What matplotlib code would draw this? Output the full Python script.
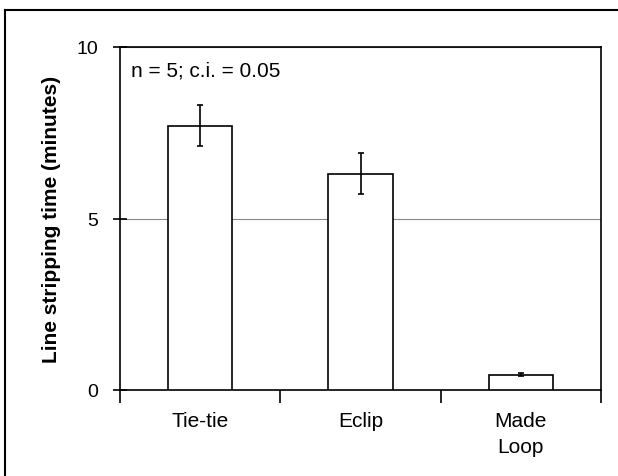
import numpy as np
import matplotlib.pyplot as plt
from matplotlib.lines import Line2D

# data
categories = ["Tie-tie", "Eclip", "Made\nLoop"]
means = [7.7, 6.3, 0.45]
ci = [0.6, 0.6, 0.05]

plt.rcParams['font.family'] = ['Liberation Sans', 'DejaVu Sans']

fig = plt.figure(figsize=(6.18, 4.77), dpi=100)
ax = fig.add_axes([120 / 618, 1 - 391 / 477, 481 / 618, 343 / 477])

x = np.arange(len(categories))
ax.bar(x, means, width=0.4, color='white', edgecolor='black', linewidth=1.2, zorder=3)
ax.errorbar(x, means, yerr=ci, fmt='none', ecolor='black', elinewidth=1.2,
            capsize=2.5, capthick=1.2, zorder=4)

ax.set_xlim(-0.5, 2.5)
ax.set_ylim(0, 10)
ax.set_yticks([0, 5, 10])
ax.set_xticks(x)
ax.set_xticklabels(categories, fontsize=15, linespacing=1.45)
ax.set_xticks([-0.5, 0.5, 1.5, 2.5], minor=True)
ax.tick_params(axis='x', which='major', length=0, pad=15)
ax.tick_params(axis='x', which='minor', length=9, width=1.2, direction='out')
ax.tick_params(axis='y', length=10, width=1.2, direction='inout', labelsize=14, pad=11)
ax.grid(axis='y', color='#888888', linewidth=0.8, zorder=0)
ax.set_axisbelow(True)
for s in ax.spines.values():
    s.set_linewidth(1.2)
    s.set_color('black')

ax.set_ylabel("Line stripping time (minutes)", fontsize=15, fontweight='bold', labelpad=11)
ax.text(0.022, 0.96, "n = 5; c.i. = 0.05", transform=ax.transAxes, fontsize=15,
        ha='left', va='top')

# scanned frame around the figure
fig.add_artist(Line2D([5 / 618, 1], [1 - 11 / 477, 1 - 11 / 477], transform=fig.transFigure,
                      color='black', linewidth=1.5))
fig.add_artist(Line2D([5 / 618, 5 / 618], [0, 1 - 11 / 477], transform=fig.transFigure,
                      color='black', linewidth=1.5))

fig.savefig("out.png", dpi=100)
